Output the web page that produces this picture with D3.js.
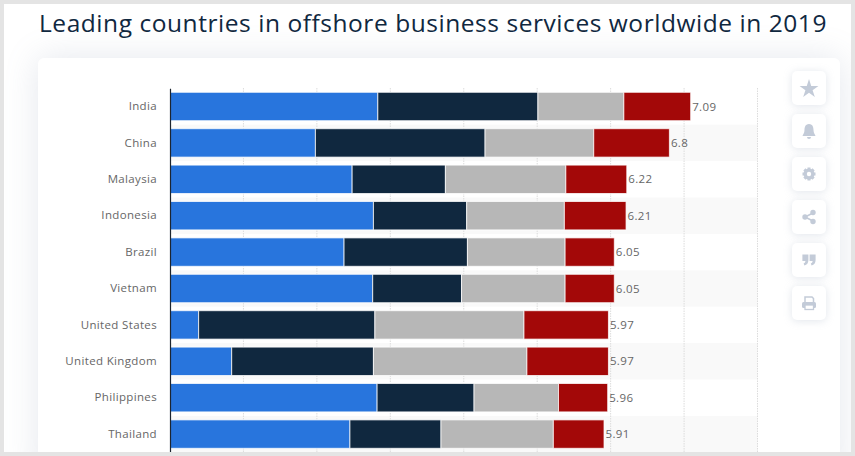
<!DOCTYPE html>
<html>
<head>
<meta charset="utf-8">
<script src="https://cdn.jsdelivr.net/npm/d3@7"></script>
<style>
  html, body { margin: 0; padding: 0; width: 855px; height: 456px; overflow: hidden; background: #e4e4e4; }
  #panel { position: absolute; left: 4px; top: 4px; width: 847px; height: 448px; overflow: hidden; background: #fff; }
  #card { position: absolute; left: 34px; top: 54px; width: 802px; height: 420px; background: #fff; border-radius: 6px;
          box-shadow: 0 0 34px rgba(120, 135, 165, .2); }
  svg { position: absolute; left: -4px; top: -4px; }
  text { font-family: "Open Sans", sans-serif; }
</style>
</head>
<body>
<div id="panel">
  <div id="card"></div>
  <svg id="chart" width="855" height="456"></svg>
</div>
<script>
const titleText = "Leading countries in offshore business services worldwide in 2019";
const countries = ["India", "China", "Malaysia", "Indonesia", "Brazil", "Vietnam", "United States", "United Kingdom", "Philippines", "Thailand"];
const totals = [7.09, 6.8, 6.22, 6.21, 6.05, 6.05, 5.97, 5.97, 5.96, 5.91];
const seriesNames = ["blue", "navy", "gray", "red"];
const blueValues = [2.83, 1.98, 2.48, 2.77, 2.37, 2.76, 0.39, 0.84, 2.82, 2.45];
const navyValues = [2.18, 2.31, 1.27, 1.27, 1.68, 1.21, 2.40, 1.93, 1.32, 1.24];
const grayValues = [1.17, 1.48, 1.64, 1.33, 1.33, 1.41, 2.03, 2.09, 1.15, 1.53];
const redValues = [0.91, 1.03, 0.83, 0.84, 0.67, 0.67, 1.15, 1.11, 0.67, 0.69];
const xTicks = [0, 1, 2, 3, 4, 5, 6, 7, 8];

const colors = d3.scaleOrdinal(seriesNames, ["#2875dd", "#10283f", "#b7b7b7", "#a30808"]);

const svg = d3.select("#chart");

// row band step is 36.4px, first row centred on 106.5
const x = d3.scaleLinear().domain([0, 8]).range([170, 757.5]);
const y = d3.scaleBand().domain(countries).range([88.3, 452.3]).paddingInner(0.22).paddingOuter(0.11);
const rowY = d3.scaleBand().domain(countries).range([88.3, 452.3]);

const rows = countries.map((c, i) => ({
  country: c, blue: blueValues[i], navy: navyValues[i], gray: grayValues[i], red: redValues[i], total: totals[i]
}));
const stacked = d3.stack().keys(seriesNames)(rows);

svg.append("text")
  .attr("x", 39).attr("y", 32)
  .attr("font-size", 24.5)
  .attr("letter-spacing", 0.55)
  .attr("fill", "#10283f")
  .text(titleText);

// alternate row stripes
svg.append("g").selectAll("rect")
  .data(countries.filter((c, i) => i % 2 === 1))
  .join("rect")
  .attr("x", x(0)).attr("width", x(8) - x(0))
  .attr("y", d => rowY(d)).attr("height", rowY.bandwidth())
  .attr("fill", "#f9f9f9");

// dotted grid
svg.append("g").selectAll("line")
  .data(xTicks.slice(1))
  .join("line")
  .attr("x1", d => x(d)).attr("x2", d => x(d))
  .attr("y1", 88).attr("y2", 452)
  .attr("stroke", "#dcdcdc")
  .attr("stroke-dasharray", "1.5,1");

svg.append("g").selectAll("g")
  .data(stacked)
  .join("g")
  .attr("fill", d => colors(d.key))
  .selectAll("rect")
  .data(d => d)
  .join("rect")
  .attr("x", d => x(d[0]))
  .attr("width", d => x(d[1]) - x(d[0]))
  .attr("y", d => y(d.data.country))
  .attr("height", y.bandwidth())
  .attr("stroke", "#fff")
  .attr("stroke-opacity", 0.75)
  .attr("stroke-width", 1);

const yAxis = svg.append("g")
  .attr("transform", `translate(${x(0)},0)`)
  .call(d3.axisLeft(rowY).tickSize(0).tickPadding(13));
yAxis.select(".domain").attr("stroke", "#1c2530").attr("stroke-width", 1.2);
yAxis.selectAll("text")
  .attr("font-family", '"Open Sans", sans-serif')
  .attr("font-size", 11.5)
  .attr("letter-spacing", 0.35)
  .attr("fill", "#666");

svg.append("g").selectAll("text")
  .data(rows)
  .join("text")
  .attr("x", d => x(d.total) + 1.5)
  .attr("y", d => rowY(d.country) + rowY.bandwidth() / 2)
  .attr("dy", "0.35em")
  .attr("font-size", 11.5)
  .attr("letter-spacing", 0.35)
  .attr("fill", "#666")
  .text(d => d.total);

// side buttons
const iconColor = "#c3cbd8";
const buttonTops = [71, 114, 157, 200, 243, 286];
const buttons = svg.append("g").selectAll("g")
  .data(buttonTops)
  .join("g")
  .attr("transform", d => `translate(809,${d + 17})`);
buttons.append("rect")
  .attr("x", -17).attr("y", -17).attr("width", 34).attr("height", 34).attr("rx", 5)
  .attr("fill", "#fff")
  .style("filter", "drop-shadow(0 1px 4px rgba(120,135,165,.22))");

const star = d3.select(buttons.nodes()[0]);
star.append("path").attr("d", d3.symbol(d3.symbolStar, 110)).attr("fill", iconColor).attr("transform", "translate(0,1)");

const bell = d3.select(buttons.nodes()[1]);
bell.append("path").attr("fill", iconColor)
  .attr("d", "M0,-7 C4,-7 4.5,-3 4.5,-1 C4.5,2 6,3 6.5,5 L-6.5,5 C-6,3 -4.5,2 -4.5,-1 C-4.5,-3 -4,-7 0,-7 Z M-2,6 L2,6 A2,2 0 0 1 -2,6 Z");

const gear = d3.select(buttons.nodes()[2]);
gear.append("circle").attr("r", 4).attr("fill", "none").attr("stroke", iconColor).attr("stroke-width", 3);
gear.append("g").selectAll("rect")
  .data(d3.range(0, 180, 45))
  .join("rect")
  .attr("x", -1.5).attr("y", -6.5).attr("width", 3).attr("height", 13)
  .attr("fill", iconColor)
  .attr("transform", d => `rotate(${d})`)
  .style("mask", "none");
gear.append("circle").attr("r", 2.2).attr("fill", "#fff");

const share = d3.select(buttons.nodes()[3]);
share.append("path").attr("d", "M4,-4 L-4,0 L4,4").attr("fill", "none").attr("stroke", iconColor).attr("stroke-width", 1.6);
share.selectAll("circle")
  .data([[4, -4.5], [-4, 0], [4, 4.5]])
  .join("circle")
  .attr("cx", d => d[0]).attr("cy", d => d[1]).attr("r", 2.7).attr("fill", iconColor);

const quote = d3.select(buttons.nodes()[4]);
quote.selectAll("path")
  .data([-3.6, 3.6])
  .join("path")
  .attr("fill", iconColor)
  .attr("transform", d => `translate(${d},0)`)
  .attr("d", "M-3,-5.5 L3,-5.5 L3,0 C3,3 1.5,5 -1,5.5 L-1.8,3.6 C-0.5,3 0,2 0,1 L-3,1 Z");

const printer = d3.select(buttons.nodes()[5]);
printer.append("path").attr("fill", "none").attr("stroke", iconColor).attr("stroke-width", 1.5)
  .attr("d", "M-4,-1 L-4,-6 L3,-6 L4.5,-4.5 L4.5,-1");
printer.append("rect").attr("x", -7).attr("y", -1).attr("width", 14).attr("height", 6).attr("rx", 1.5).attr("fill", iconColor);
printer.append("rect").attr("x", -4).attr("y", 2).attr("width", 8.5).attr("height", 4.5)
  .attr("fill", "#fff").attr("stroke", iconColor).attr("stroke-width", 1.3);
</script>
</body>
</html>
